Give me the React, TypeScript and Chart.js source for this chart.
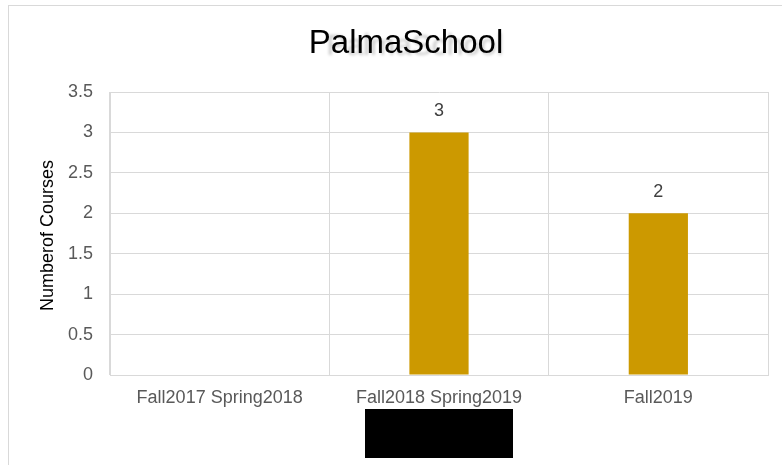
import React, { useEffect, useRef } from "react";
import { Chart, registerables } from "chart.js";

Chart.register(...registerables);

const chartTitle = "PalmaSchool";
const yAxisTitle = "Numberof Courses";
const categories = ["Fall2017 Spring2018", "Fall2018 Spring2019", "Fall2019"];
const courseCounts: (number | null)[] = [null, 3, 2];
const yMin = 0;
const yMax = 3.5;
const yStep = 0.5;

const FONT = "'Liberation Sans', Arial, sans-serif";

const textPlugin = {
  id: "texts",
  afterDatasetsDraw(chart: any) {
    const ctx = chart.ctx;
    const area = chart.chartArea;
    ctx.save();
    // data labels
    const meta = chart.getDatasetMeta(0);
    meta.data.forEach((bar: any, i: number) => {
      const v = courseCounts[i];
      if (v === null || v === undefined) return;
      ctx.fillStyle = "#404040";
      ctx.font = `18px ${FONT}`;
      ctx.textAlign = "center";
      ctx.textBaseline = "middle";
      ctx.fillText(String(v), bar.x, bar.y - 21);
    });
    const cx = chart.width / 2;
    // title ghost
    ctx.save();
    ctx.filter = "blur(1.5px)";
    ctx.fillStyle = "rgba(0,0,0,0.22)";
    ctx.font = `30px ${FONT}`;
    ctx.textAlign = "center";
    ctx.textBaseline = "middle";
    ctx.fillText(chartTitle, cx + 9, 41);
    ctx.restore();
    // title
    ctx.fillStyle = "#000000";
    ctx.font = `33px ${FONT}`;
    ctx.textAlign = "center";
    ctx.textBaseline = "middle";
    ctx.fillText(chartTitle, cx, 38);
    // y title
    ctx.save();
    ctx.translate(39, (area.top + area.bottom) / 2 + 2);
    ctx.rotate(-Math.PI / 2);
    ctx.fillStyle = "#000000";
    ctx.font = `18px ${FONT}`;
    ctx.textAlign = "center";
    ctx.textBaseline = "middle";
    ctx.fillText(yAxisTitle, 0, 0);
    ctx.restore();
    ctx.restore();
  },
};

export default function App() {
  const ref = useRef<HTMLCanvasElement | null>(null);
  useEffect(() => {
    if (!ref.current) return;
    document.body.style.overflow = "hidden";
    const chart = new Chart(ref.current, {
      type: "bar",
      data: {
        labels: categories,
        datasets: [
          {
            data: courseCounts as any,
            backgroundColor: "#CC9900",
            borderWidth: 0,
            categoryPercentage: 1,
            barPercentage: 0.27,
          },
        ],
      },
      options: {
        animation: false,
        responsive: true,
        maintainAspectRatio: false,
        layout: { padding: { left: 0, right: 35, top: 86, bottom: 0 } },
        plugins: {
          legend: { display: false },
          title: { display: false },
          tooltip: { enabled: false },
        },
        scales: {
          x: {
            grid: { color: "#d9d9d9", drawTicks: false, offset: true },
            border: { color: "#d9d9d9" },
            ticks: {
              color: "#595959",
              font: { family: FONT, size: 18 },
              padding: 12,
              maxRotation: 0,
              autoSkip: false,
            },
            afterFit(scale: any) {
              scale.height = 99;
            },
          },
          y: {
            min: yMin,
            max: yMax,
            grid: { color: "#d9d9d9", drawTicks: false },
            border: { color: "#d9d9d9" },
            ticks: {
              stepSize: yStep,
              color: "#595959",
              font: { family: FONT, size: 18 },
              padding: 17,
              callback: (v: any) => String(Number(v)),
            },
            afterFit(scale: any) {
              scale.width = 101;
            },
          },
        },
      },
      plugins: [textPlugin],
    });
    return () => chart.destroy();
  }, []);

  return (
    <div style={{ position: "fixed", left: 0, top: 0, width: 782, height: 465, overflow: "hidden", background: "#fff" }}>
      <div
        style={{
          position: "absolute",
          left: 8,
          top: 5,
          width: 796,
          height: 470,
          border: "1px solid #d9d9d9",
          boxSizing: "border-box",
          background: "#fff",
        }}
      >
        <canvas ref={ref} />
      </div>
      <div style={{ position: "absolute", left: 365, top: 409, width: 148, height: 49, background: "#000" }} />
    </div>
  );
}
